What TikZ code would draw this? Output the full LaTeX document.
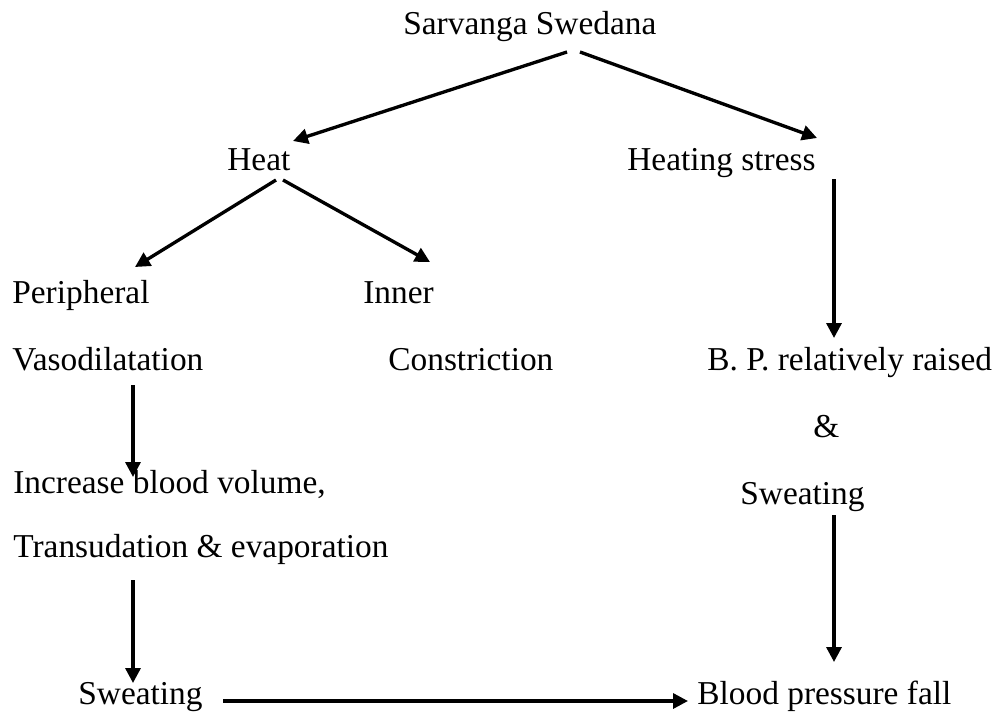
\documentclass[tikz,border=0pt]{standalone}
\usepackage{fontspec}
\setmainfont{Liberation Serif}
\usetikzlibrary{arrows.meta,calc}

\begin{document}
\begin{tikzpicture}[
  x=0.02cm, y=-0.02cm,
  txt/.style={inner sep=0pt,anchor=base west,font=\fontsize{19}{22}\selectfont},
  arr/.style={-{Triangle[length=8.5pt,width=8.5pt]},line width=1.9pt}
]
\useasboundingbox (0,0) rectangle (993,713);

\node[txt] (sarv) at (403,35) {Sarvanga Swedana};
\node[txt] (heat) at (227,170) {Heat};
\node[txt] (hstress) at (627,170) {Heating stress};
\node[txt] (periph) at (12,303) {Peripheral};
\node[txt] (inner) at (363,303) {Inner};
\node[txt] (vaso) at (12,370) {Vasodilatation};
\node[txt] (constr) at (388,370) {Constriction};
\node[txt] (bp) at (707,370) {B. P. relatively raised};
\node[txt] (amp) at (813,437) {\&};
\node[txt] (sweatr) at (740,504) {Sweating};
\node[txt] (incr) at (13,493) {Increase blood volume,};
\node[txt] (trans) at (13,557) {Transudation \& evaporation};
\node[txt] (sweatl) at (78,704) {Sweating};
\node[txt] (bpfall) at (697,704) {Blood pressure fall};

\draw[arr] ($(sarv.base west)+(164,17)$) -- ($(heat.base west)+(66,-29)$);
\draw[arr] ($(sarv.base west)+(177,17)$) -- ($(hstress.base west)+(190,-32)$);
\draw[arr] ($(heat.base west)+(49,10)$) -- ($(periph.base west)+(123,-36)$);
\draw[arr] ($(heat.base west)+(56,10)$) -- ($(inner.base west)+(67,-41)$);
\draw[arr] ($(hstress.base west)+(207,9)$) -- ($(bp.base west)+(127,-32)$);
\draw[arr] ($(vaso.base west)+(121,15)$) -- ($(incr.base west)+(120,-16)$);
\draw[arr] ($(trans.base west)+(120,23)$) -- ($(sweatl.base west)+(55,-21)$);
\draw[arr] ($(sweatr.base west)+(94,11)$) -- ($(bpfall.base west)+(137,-42)$);
\draw[arr] ($(sweatl.base west)+(145,-3)$) -- ($(bpfall.base west)+(-9,-3)$);
\end{tikzpicture}
\end{document}
